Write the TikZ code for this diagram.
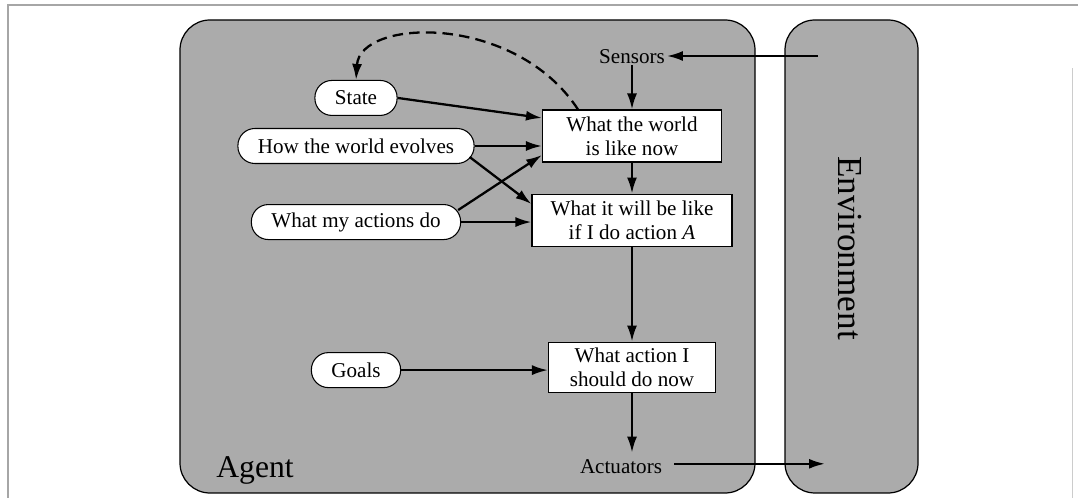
\documentclass[tikz,border=0pt]{standalone}
\usepackage{fontspec}
\setmainfont{Liberation Serif}
\usepackage{xcolor}
\usepackage{tikz}
\usetikzlibrary{shapes.geometric, arrows, arrows.meta, positioning, calc}

\begin{document}
\begin{tikzpicture}[
   node distance = 0.6cm,
   font = \fontsize{12}{13.5}\selectfont,
   region/.style = {draw, fill=black!33, rounded corners=0.6cm, line width=0.7pt},
   pill/.style = {draw, fill=white, rectangle, rounded corners=0.34cm, minimum height=0.7cm, inner xsep=0.4cm, line width=0.6pt},
   box/.style = {draw, fill=white, rectangle, minimum height=1.04cm, align=center, inner sep=0.1cm, line width=0.6pt},
   label/.style = {inner sep=1pt},
   line/.style = {draw, -{Latex[length=3.2mm,width=2mm]}, line width=1.3pt}
   ]
  \useasboundingbox (0,0) rectangle (21.56,9.96);

  % Frame
  \draw[gray!70, line width=0.8pt] (0.16,0) |- (21.56,9.86);
  \draw[gray!40, line width=0.5pt] (21.44,0) -- (21.44,8.6);

  % Agent and environment regions
  \draw[region] (3.6,0.1) rectangle (15.1,9.56);
  \draw[region] (15.7,0.1) rectangle (18.36,9.56);
  \node[label, font=\fontsize{18}{20}\selectfont] (agent) at (5.1,0.56) {Agent};
  \node[label, font=\fontsize{20}{22}\selectfont, rotate=-90] (environment) at (17.0,5.0) {Environment};

  % Right column
  \node[box, minimum width=3.58cm] (world) at (12.64,7.24)
   {What the world\\is like now};
  \node[label, above=0.88cm of world] (sensors) {Sensors};
  \node[box, minimum width=4.0cm, below=0.62cm of world] (future)
   {What it will be like\\if I do action \textit{A}};
  \node[box, minimum width=3.34cm, minimum height=1.0cm, below=1.9cm of future] (action)
   {What action I\\should do now};
  \node[label, below=1.3cm of action, xshift=-0.22cm] (actuators) {Actuators};

  % Left column
  \node[pill] (evolves) at (7.12,7.04) {How the world evolves};
  \node[pill, above=0.24cm of evolves] (state) {State};
  \node[pill, below=0.8cm of evolves] (effects) {What my actions do};
  \node[pill, below=2.24cm of effects] (goals) {Goals};

  % Environment ends
  \coordinate (percept) at (16.36,8.84);
  \coordinate (effect) at (16.5,0.72);

  % Arrows
  \draw[line] (percept) -- (percept -| sensors.east);
  \draw[line] (sensors) -- (world);
  \draw[line] (world) -- (future);
  \draw[line] (future) -- (action);
  \draw[line, shorten >=0.1cm] (action.south) -- (action.south |- actuators.north);
  \draw[line] ($(actuators.east)+(0.2,0.06)$) -- (effect |- {$(actuators.east)+(0,0.06)$});
  \draw[line] (state.east) -- ($(world.west)+(0,0.36)$);
  \draw[line] (evolves.east) -- (evolves.east -| world.west);
  \draw[line] ($(evolves.east)+(-0.1,-0.22)$) -- ($(future.west)+(0,0.32)$);
  \draw[line] ($(effects.east)+(-0.06,0.24)$) -- ($(world.west)+(0,-0.38)$);
  \draw[line] (effects.east) -- (effects.east -| future.west);
  \draw[line] (goals.east) -- (goals.east -| action.west);
  \draw[line, dashed, dash pattern=on 6pt off 3.5pt] ($(world.north)+(-1.08,0)$)
   .. controls (10.3,9.7) and (7.2,9.6) .. (state.north);
\end{tikzpicture}
\end{document}
